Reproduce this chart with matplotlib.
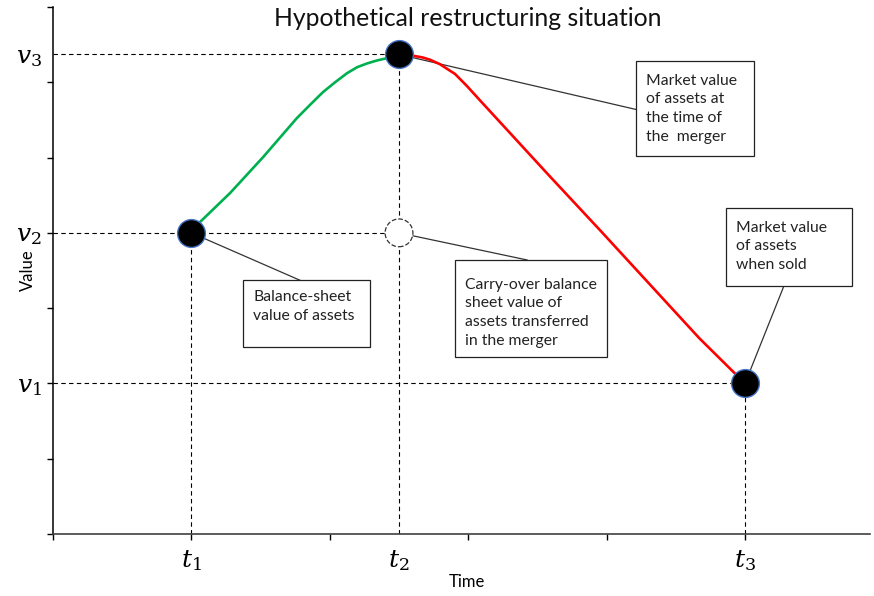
import matplotlib.pyplot as plt
from matplotlib.patches import Rectangle

plt.rcParams['font.family'] = ['Lato', 'DejaVu Sans']
plt.rcParams['mathtext.fontset'] = 'dejavuserif'

# key moments and value levels (axis units)
t_pos = [1.0, 2.5, 5.0]
t_labels = ['$t_1$', '$t_2$', '$t_3$']
v_pos = [2.0, 4.0, 6.37]
v_labels = ['$v_1$', '$v_2$', '$v_3$']

# value rising up to the merger (green)
green_x = [1.0, 1.06, 1.28, 1.52, 1.76, 1.857, 1.951, 2.038, 2.124, 2.197, 2.269, 2.341, 2.413, 2.5]
green_y = [4.0, 4.14, 4.53, 5.01, 5.52, 5.70, 5.87, 6.00, 6.12, 6.20, 6.25, 6.29, 6.32, 6.37]

# value falling until the sale (red)
red_x = [2.5, 2.579, 2.67, 2.724, 2.796, 2.905, 2.991, 3.085, 3.23, 3.59, 3.95, 4.31, 4.67, 5.0]
red_y = [6.37, 6.36, 6.33, 6.30, 6.24, 6.11, 5.95, 5.76, 5.47, 4.75, 4.04, 3.32, 2.60, 2.0]

# filled points and the carry-over (hollow) point
pts_x = [1.0, 2.5, 5.0]
pts_y = [4.0, 6.37, 2.0]
hollow_x = [2.5]
hollow_y = [4.0]

notes = [
    ("Market value\nof assets at\nthe time of\nthe  merger", (4.21, 5.02, 5.065, 6.28), 5.65, (2.5, 6.37), (4.21, 5.64)),
    ("Carry-over balance\nsheet value of\nassets transferred\nin the merger", (2.905, 2.35, 4.00, 3.64), 2.94, (2.5, 4.0), (3.425, 3.64)),
    ("Balance-sheet\nvalue of assets", (1.373, 2.48, 2.29, 3.37), 3.02, (1.0, 4.0), (1.785, 3.37)),
    ("Market value\nof assets\nwhen sold", (4.86, 3.29, 5.77, 4.33), 3.82, (5.0, 2.0), (5.28, 3.29)),
]

fig = plt.figure(figsize=(8.74, 5.96), dpi=100)
ax = fig.add_axes([53 / 874, 62 / 596, 817 / 874, 527 / 596])
ax.set_xlim(0, 5.903)
ax.set_ylim(0, 7)

for s in ['top', 'right']:
    ax.spines[s].set_visible(False)
ax.spines['left'].set_linewidth(1.1)
ax.spines['bottom'].set_linewidth(1.2)
ax.spines['bottom'].set_color('#404040')

# tick marks without labels, labels at the key levels
ax.xaxis.remove_overlapping_locs = False
ax.yaxis.remove_overlapping_locs = False
ax.set_xticks(range(6), [''] * 6)
ax.set_yticks(range(8), [''] * 8)
ax.set_xticks(t_pos, t_labels, minor=True)
ax.set_yticks(v_pos, v_labels, minor=True)
ax.tick_params(which='major', length=4, width=1, direction='out')
ax.tick_params(which='minor', length=0, labelsize=18)
ax.tick_params(axis='x', which='minor', pad=10)
ax.tick_params(axis='y', which='minor', pad=8)

# dashed guides
dash = (0, (4, 3))
ax.hlines([v_pos[2], v_pos[1]], 0, t_pos[1], colors='black', linestyles=[dash], lw=0.8, zorder=1)
ax.hlines(v_pos[0], 0, t_pos[2], colors='black', linestyles=[dash], lw=0.8, zorder=1)
ax.vlines(t_pos[0], 0, v_pos[1], colors='black', linestyles=[dash], lw=0.8, zorder=1)
ax.vlines(t_pos[1], 0, v_pos[2], colors='black', linestyles=[dash], lw=0.8, zorder=1)
ax.vlines(t_pos[2], 0, v_pos[0], colors='black', linestyles=[dash], lw=0.8, zorder=1)

ax.plot(green_x, green_y, color='#00B050', lw=1.9, zorder=3, solid_joinstyle='round')
ax.plot(red_x, red_y, color='#FF0000', lw=1.9, zorder=3, solid_joinstyle='round')

for text, box, ty, p0, p1 in notes:
    ax.plot([p0[0], p1[0]], [p0[1], p1[1]], color='#333333', lw=0.9, zorder=2)
    x0, y0, x1, y1 = box
    ax.add_patch(Rectangle((x0, y0), x1 - x0, y1 - y0, facecolor='white',
                           edgecolor='#222222', lw=0.9, zorder=4))
    ax.text(x0 + 0.075, ty, text, fontsize=11.3, va='center', ha='left',
            linespacing=1.42, color='#222222', zorder=5)

ax.scatter(pts_x, pts_y, s=400, color='black', edgecolors='#4472C4', linewidths=1, zorder=6)
ax.scatter(hollow_x, hollow_y, s=400, color='white', edgecolors='#333333',
           linewidths=0.9, linestyle='--', zorder=6)

fig.text(468 / 874, 1 - 18 / 596, 'Hypothetical restructuring situation',
         fontsize=17.8, ha='center', va='center', color='#111111')
fig.text(28 / 874, 1 - 270 / 596, 'Value', fontsize=12, rotation=90,
         ha='center', va='center')
fig.text(467 / 874, 1 - 582 / 596, 'Time', fontsize=12, ha='center', va='center')

fig.savefig('out.png', dpi=100)
